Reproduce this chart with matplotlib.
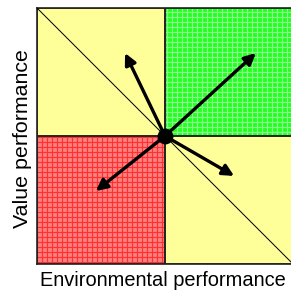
import matplotlib.pyplot as plt
from matplotlib.patches import Rectangle

# quadrants: (x0, y0, face, hatch colour or None)
quad_x = [0.0, 0.5, 0.0, 0.5]
quad_y = [0.5, 0.5, 0.0, 0.0]
quad_face = ['#ffff99', '#22ff22', '#ff8080', '#ffff99']
quad_hatch = [None, '#8cff8c', '#ff3030', None]

# arrows from the centre
centre = (0.5, 0.5)
tip_x = [0.344, 0.855, 0.230, 0.770]
tip_y = [0.824, 0.824, 0.285, 0.344]

xlabel = 'Environmental performance'
ylabel = 'Value performance'

W, H, DPI = 291, 292, 120
fig = plt.figure(figsize=(W / DPI, H / DPI), dpi=DPI)
ax = fig.add_axes([37 / W, 28 / H, 256 / W, 256 / H])
ax.set_xlim(0, 1)
ax.set_ylim(0, 1)

plt.rcParams['hatch.linewidth'] = 0.7
for x0, y0, fc, hc in zip(quad_x, quad_y, quad_face, quad_hatch):
    if hc:
        ax.add_patch(Rectangle((x0, y0), 0.5, 0.5, facecolor=fc, edgecolor=hc,
                               hatch='++++', linewidth=0, zorder=1))
    else:
        ax.add_patch(Rectangle((x0, y0), 0.5, 0.5, facecolor=fc, linewidth=0, zorder=1))
    ax.add_patch(Rectangle((x0, y0), 0.5, 0.5, fill=False, edgecolor='#222222',
                           linewidth=1.0, zorder=2))

ax.plot([0, 1], [1, 0], color='black', lw=0.6, zorder=3)

for tx, ty in zip(tip_x, tip_y):
    ax.annotate('', xy=(tx, ty), xytext=centre,
                arrowprops=dict(arrowstyle='-|>', color='black', lw=2.0,
                                mutation_scale=14, shrinkA=0, shrinkB=0),
                zorder=4)
ax.plot(*centre, 'o', color='black', markersize=8.5, zorder=5)

ax.set_xticks([])
ax.set_yticks([])
for s in ax.spines.values():
    s.set_linewidth(1.0)
    s.set_color('#222222')

fam = ['Liberation Sans', 'DejaVu Sans']
# labels placed in figure pixels so they line up with the reference
fig.text(163 / W, (H - 286) / H, xlabel, family=fam, fontsize=12,
         ha='center', va='baseline')
fig.text(28.5 / W, (H - 138.5) / H, ylabel, family=fam, fontsize=12.8,
         rotation=90, rotation_mode='anchor', ha='center', va='baseline')

fig.savefig('out.png', dpi=DPI)
